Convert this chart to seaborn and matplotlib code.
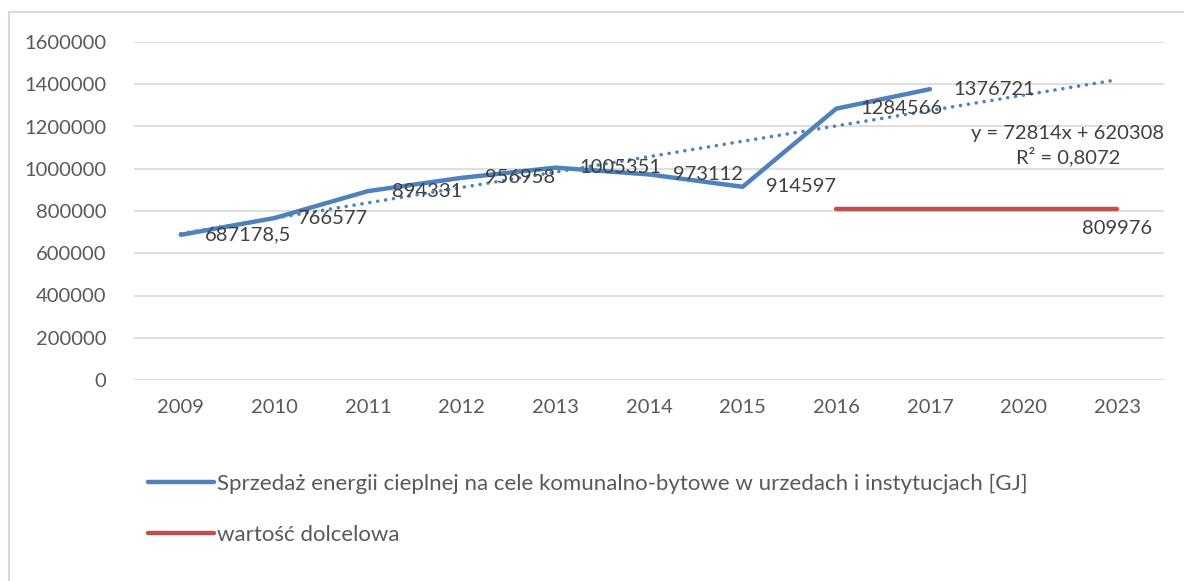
import matplotlib
matplotlib.use("Agg")
import matplotlib.pyplot as plt
from matplotlib.patches import Rectangle
from matplotlib.lines import Line2D
import seaborn as sns
import pandas as pd

years = ["2009", "2010", "2011", "2012", "2013", "2014", "2015", "2016", "2017", "2020", "2023"]
sales = [687178.5, 766577, 894331, 956958, 1005351, 973112, 914597, 1284566, 1376721]
sales_labels = ["687178,5", "766577", "894331", "956958", "1005351", "973112", "914597", "1284566", "1376721"]
target_years = ["2016", "2017", "2020", "2023"]
target = [809976, 809976, 809976, 809976]
trend_slope = 72814
trend_intercept = 620308
trend_text = "y = 72814x + 620308\nR² = 0,8072"

blue = "#4f81bd"
red = "#c0504d"
grid_c = "#d9d9d9"
tick_c = "#595959"
label_c = "#404040"

sns.set_theme(style="white")
plt.rcParams["font.family"] = ["Lato", "DejaVu Sans"]

pos = {y: i for i, y in enumerate(years)}
df_sales = pd.DataFrame({"x": [pos[y] for y in years[:len(sales)]], "y": sales})
df_target = pd.DataFrame({"x": [pos[y] for y in target_years], "y": target})
df_trend = pd.DataFrame({"x": list(range(len(years))),
                         "y": [trend_slope * (i + 1) + trend_intercept for i in range(len(years))]})

fig = plt.figure(figsize=(11.84, 5.81), dpi=100)
ax = fig.add_axes([134 / 1184, 1 - 380 / 581, 1030 / 1184, 338 / 581])

sns.lineplot(data=df_sales, x="x", y="y", ax=ax, color=blue, lw=3.2,
             solid_capstyle="round", zorder=3)
sns.lineplot(data=df_target, x="x", y="y", ax=ax, color=red, lw=3.2,
             solid_capstyle="round", zorder=3)
sns.lineplot(data=df_trend, x="x", y="y", ax=ax, color=blue, lw=2.6,
             linestyle=(0, (0.01, 2.2)), dash_capstyle="round", zorder=2)

fs = 14.5
for x, y, t in zip(df_sales["x"], df_sales["y"], sales_labels):
    ax.annotate(t, (x, y), xytext=(17, 0), textcoords="offset points",
                ha="left", va="center", fontsize=fs, color=label_c, zorder=4)
ax.annotate(str(target[-1]), (df_target["x"].iloc[-1], target[-1]), xytext=(0, -14),
            textcoords="offset points", ha="center", va="center", fontsize=fs, color=label_c)

ax.text(1068 / 1184, 1 - 146 / 581, trend_text, transform=fig.transFigure,
        ha="center", va="center", fontsize=fs, color=label_c, linespacing=1.3)

ax.set_xlim(-0.5, len(years) - 0.5)
ax.set_ylim(0, 1600000)
ax.set_yticks(range(0, 1600001, 200000))
ax.set_yticklabels([str(v) for v in range(0, 1600001, 200000)])
ax.set_xticks(range(len(years)))
ax.set_xticklabels(years)
ax.tick_params(axis="both", length=0, labelsize=fs, colors=tick_c)
ax.tick_params(axis="y", pad=20)
ax.tick_params(axis="x", pad=14)
ax.set_xlabel("")
ax.set_ylabel("")
ax.grid(axis="y", color=grid_c, lw=1.2)
ax.set_axisbelow(True)
for s in ax.spines.values():
    s.set_visible(False)

handles = [Line2D([], [], color=blue, lw=3.2, solid_capstyle="round"),
           Line2D([], [], color=red, lw=3.2, solid_capstyle="round")]
names = ["Sprzedaż energii cieplnej na cele komunalno-bytowe w urzedach i instytucjach [GJ]",
         "wartość dolcelowa"]
leg = fig.legend(handles, names, loc="upper left", bbox_to_anchor=(128 / 1184, 1 - 454 / 581),
                 frameon=False, fontsize=16.0, handlelength=2.95, handletextpad=0.15,
                 labelspacing=1.4)
for t in leg.get_texts():
    t.set_color(tick_c)

fig.patches.append(Rectangle((9 / 1184, -0.1), 1.2, 1.1 - 12 / 581,
                             transform=fig.transFigure, fill=False,
                             edgecolor=grid_c, lw=1.5))

fig.savefig("out.png", dpi=100)
